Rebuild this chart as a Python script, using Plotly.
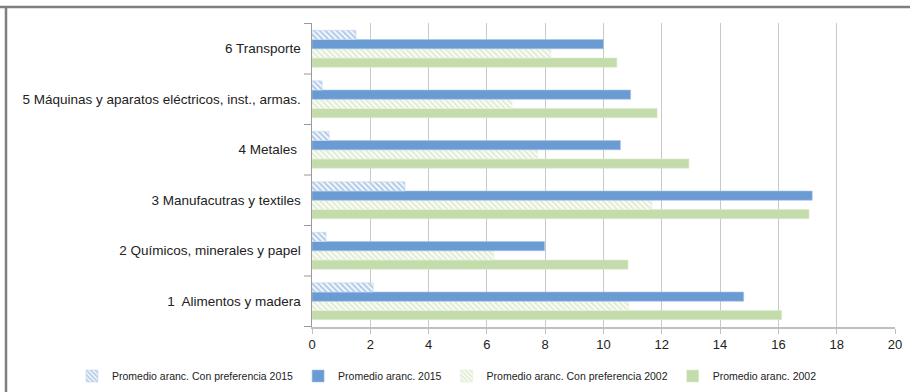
import plotly.graph_objects as go

categories = [
    "1  Alimentos y madera",
    "2 Químicos, minerales y papel",
    "3 Manufacutras y textiles",
    "4 Metales ",
    "5 Máquinas y aparatos eléctricos, inst., armas.",
    "6 Transporte",
]
pref_2015 = [2.1, 0.48, 3.19, 0.59, 0.35, 1.51]
prom_2015 = [14.81, 7.98, 17.16, 10.58, 10.93, 10.0]
pref_2002 = [10.87, 6.24, 11.66, 7.74, 6.86, 8.19]
prom_2002 = [16.11, 10.84, 17.05, 12.93, 11.84, 10.46]
x_ticks = [0, 2, 4, 6, 8, 10, 12, 14, 16, 18, 20]

BLUE = "#6a9bd3"
GREEN = "#c4dcab"
FONT = "Liberation Sans"

fig = go.Figure()
# Horizontal grouped bars stack bottom-up, so the last trace sits on top of each group.
fig.add_trace(go.Bar(
    y=categories, x=prom_2002, orientation="h", name="Promedio aranc. 2002",
    marker=dict(color=GREEN, line=dict(color="#dceacd", width=0.6)),
))
fig.add_trace(go.Bar(
    y=categories, x=pref_2002, orientation="h", name="Promedio aranc. Con preferencia 2002",
    marker=dict(color="white", line=dict(color="#e4eed8", width=0.6),
                pattern=dict(shape="\\", fgcolor=GREEN, bgcolor="white", size=4, solidity=0.6)),
))
fig.add_trace(go.Bar(
    y=categories, x=prom_2015, orientation="h", name="Promedio aranc. 2015",
    marker=dict(color=BLUE, line=dict(color="#a9c5e8", width=0.6)),
))
fig.add_trace(go.Bar(
    y=categories, x=pref_2015, orientation="h", name="Promedio aranc. Con preferencia 2015",
    marker=dict(color="white", line=dict(color="#c6d9f0", width=0.6),
                pattern=dict(shape="\\", fgcolor=BLUE, bgcolor="white", size=4, solidity=0.6)),
))

fig.update_layout(
    width=910, height=392,
    margin=dict(l=312, r=15, t=23, b=65, autoexpand=False),
    paper_bgcolor="white", plot_bgcolor="white",
    barmode="group", bargap=0.27, bargroupgap=0,
    font=dict(family=FONT, size=12, color="#222222"),
    showlegend=True,
    legend=dict(orientation="h", traceorder="reversed",
                xref="paper", x=(72 - 312) / 583, xanchor="left",
                yref="paper", y=-49/304, yanchor="middle",
                font=dict(size=10.5, color="#222222"),
                itemwidth=30, tracegroupgap=0),
    xaxis=dict(range=[0, 20], tickvals=x_ticks, showgrid=True, gridcolor="#c9c9c9",
               gridwidth=1, zeroline=False, showline=True, linecolor="#bfbfbf",
               linewidth=1.5, ticks="outside", ticklen=5, tickcolor="#bfbfbf",
               tickfont=dict(size=13, color="#222222")),
    yaxis=dict(showline=True, linecolor="#9a9a9a", linewidth=1, ticks="",
               tickfont=dict(size=13.5, color="#222222"), ticksuffix="  "),
    shapes=[
        dict(type="line", xref="paper", yref="paper", x0=-312/583, x1=1 + 15/583,
             y0=1 + 16/304, y1=1 + 16/304, line=dict(color="#7f7f7f", width=2.5)),
        dict(type="line", xref="paper", yref="paper", x0=-306/583, x1=-306/583,
             y0=1 + 16/304, y1=-65/304, line=dict(color="#7f7f7f", width=2.5)),
    ],
)

# Category separator ticks on the left axis
for i in range(len(categories) + 1):
    fig.add_shape(type="line", xref="paper", yref="y", x0=-8/583, x1=0,
                  y0=i - 0.5, y1=i - 0.5, line=dict(color="#9a9a9a", width=1))

fig.write_html("out.html")
